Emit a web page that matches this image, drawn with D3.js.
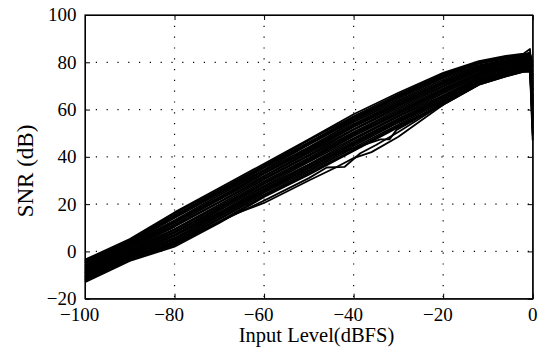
<!DOCTYPE html>
<html>
<head>
<meta charset="utf-8">
<script src="https://cdn.jsdelivr.net/npm/d3@7"></script>
<style>
  html, body { margin: 0; padding: 0; background: #fff; }
  svg { display: block; }
</style>
</head>
<body>
<svg id="chart-svg"></svg>
<script>
// input level sample points (dBFS), shared by the main bundle of runs
const levels = [-100, -90, -80, -70, -60, -50, -40, -30, -20, -12, -6, -2, -0.6, 0];

// SNR (dB) of each run at the levels above
const snrRuns = [
  [-3.5, 5.2, 16.5, 26.8, 37.1, 47.4, 58.0, 67.1, 75.5, 80.5, 82.7, 83.7, 85.6, 62],
  [-4.0, 4.5, 16.1, 26.2, 36.4, 47.0, 57.2, 66.5, 75.0, 80.2, 82.3, 83.2, 84.0, 78],
  [-4.5, 4.8, 15.4, 25.2, 36.0, 46.2, 56.0, 66.0, 74.5, 80.0, 82.0, 83.0, 84.2, 68],
  [-4.3, 4.2, 15.1, 25.8, 35.7, 46.0, 56.7, 65.6, 74.2, 79.8, 81.9, 82.8, 83.4, 55],
  [-4.8, 3.9, 14.7, 24.9, 35.3, 45.5, 55.8, 65.2, 73.8, 79.4, 81.6, 82.5, 83.0, 70],
  [-5.0, 3.4, 14.1, 24.5, 34.5, 45.1, 55.3, 64.6, 73.3, 78.8, 81.0, 82.1, 83.5, 80],
  [-5.7, 3.1, 13.2, 23.8, 34.0, 44.1, 54.7, 63.9, 72.6, 78.4, 80.7, 81.9, 83.1, 58],
  [-6.0, 2.6, 12.8, 23.0, 33.4, 43.6, 53.9, 63.3, 72.0, 77.9, 80.3, 81.6, 82.7, 74],
  [-6.5, 2.0, 12.5, 22.2, 33.0, 42.8, 53.0, 62.5, 71.2, 77.3, 80.2, 81.4, 82.0, 64],
  [-6.4, 2.4, 12.1, 22.6, 32.9, 43.0, 53.4, 62.6, 71.5, 77.5, 80.0, 81.2, 82.3, 66],
  [-6.8, 1.8, 11.5, 21.9, 32.0, 42.2, 52.6, 61.9, 70.8, 77.0, 79.6, 80.9, 81.8, 79],
  [-7.3, 1.6, 10.9, 21.0, 31.6, 41.7, 51.8, 61.4, 70.2, 76.6, 79.2, 80.6, 81.6, 52],
  [-7.6, 1.0, 10.4, 20.7, 30.9, 40.9, 51.4, 60.7, 69.7, 76.2, 78.9, 80.3, 81.1, 76],
  [-8.1, 0.8, 9.5, 19.8, 30.4, 40.4, 50.5, 60.0, 69.0, 75.7, 78.4, 80.0, 80.6, 63],
  [-8.4, 0.2, 9.1, 19.1, 29.7, 39.6, 50.1, 59.4, 68.6, 75.2, 78.2, 79.5, 80.4, 80],
  [-9.0, -0.2, 8.4, 18.2, 28.8, 38.8, 49.6, 58.5, 68.4, 75.0, 77.5, 79.0, 79.8, 73],
  [-8.9, 0.0, 8.1, 18.6, 29.0, 39.1, 49.2, 58.8, 67.9, 74.9, 77.7, 79.3, 79.9, 57],
  [-9.3, -0.6, 7.8, 17.8, 28.5, 38.3, 48.7, 58.2, 67.3, 74.4, 77.3, 78.9, 79.5, 72],
  [-9.7, -0.8, 7.0, 17.3, 27.8, 37.8, 47.8, 57.5, 66.8, 74.0, 77.0, 78.5, 79.1, 49],
  [-10.2, -1.4, 6.4, 16.5, 27.3, 36.9, 47.2, 57.0, 66.0, 73.5, 76.5, 78.3, 78.7, 68],
  [-10.5, -1.6, 5.7, 16.0, 26.6, 36.4, 46.5, 56.2, 65.5, 73.1, 76.2, 77.9, 78.3, 77],
  [-11.0, -1.8, 5.0, 15.4, 25.6, 35.5, 45.7, 55.2, 65.0, 72.5, 75.6, 77.4, 77.8, 62],
  [-10.9, -2.1, 5.3, 15.2, 26.1, 35.6, 45.9, 55.8, 64.9, 72.7, 75.8, 77.7, 77.9, 60],
  [-11.4, -2.4, 4.4, 14.6, 25.3, 35.1, 45.2, 55.0, 64.2, 72.2, 75.4, 77.2, 77.5, 75],
  [-11.8, -2.9, 4.0, 13.9, 24.8, 34.4, 44.6, 54.5, 63.8, 71.8, 75.1, 77.0, 77.2, 54],
  [-12.1, -3.1, 3.4, 13.5, 24.1, 33.8, 43.8, 53.7, 63.3, 71.3, 74.7, 76.6, 76.8, 71],
  [-12.6, -3.7, 2.6, 12.6, 23.5, 33.1, 43.0, 53.1, 62.4, 70.9, 74.4, 76.2, 76.3, 65],
  [-13.0, -4.0, 2.0, 12.0, 23.0, 32.5, 42.5, 52.5, 62.0, 70.5, 74.0, 76.0, 76.0, 47]
];

// a few runs that sag below the bundle between -70 and -30 dBFS
const kinkLevels = [-100, -90, -80, -70, -60, -50, -46, -42, -38.5, -35, -30, -20, -12, -6, -2, -0.6, 0];
const kinkSnr    = [-11.5, -2.5, 3.5, 12.5, 21.5, 31, 35.5, 35.8, 41.5, 45, 50.5, 62.5, 71, 74.5, 76.5, 77, 50];
const sagLevels  = [-100, -90, -80, -70, -67, -60, -50, -44, -40, -36, -30, -20, -12, -6, -2, -0.6, 0];
const sagSnr     = [-12, -3, 3, 12.5, 15.5, 20.5, 30, 35.5, 39.5, 42, 48.5, 62, 70.5, 74, 76, 76.5, 56];
const dipLevels  = [-100, -80, -60, -45, -34, -32, -30.4, -27, -20, -12, -2, -0.6, 0];
const dipSnr     = [-9, 7, 26, 40.5, 47.4, 47.4, 51.4, 55, 63, 71.5, 77, 77.5, 61];

const xTicks = [-100, -80, -60, -40, -20, 0];
const yTicks = [-20, 0, 20, 40, 60, 80, 100];

const serif = "'Liberation Serif', 'Times New Roman', Times, serif";

const margin = {top: 15, right: 11.3, bottom: 54.3, left: 85},
  width = 544 - margin.left - margin.right,
  height = 353 - margin.top - margin.bottom;

const x = d3.scaleLinear().domain([-100, 0]).range([0, width]);
const y = d3.scaleLinear().domain([-20, 100]).range([height, 0]);

const svg = d3.select('#chart-svg')
  .attr('width', width + margin.left + margin.right)
  .attr('height', height + margin.top + margin.bottom)
  .attr('font-family', serif)
  .append('g')
  .attr('transform', 'translate(' + margin.left + ',' + margin.top + ')');

// dotted grid (inner ticks only)
const grid = svg.append('g').attr('class', 'grid')
  .attr('stroke', '#000').attr('stroke-width', 1.2).attr('stroke-dasharray', '1.2 9.6');
grid.selectAll('line.v').data(xTicks.slice(1, -1)).enter().append('line')
  .attr('x1', d => x(d)).attr('x2', d => x(d)).attr('y1', 0).attr('y2', height);
grid.selectAll('line.h').data(yTicks.slice(1, -1)).enter().append('line')
  .attr('x1', 0).attr('x2', width).attr('y1', d => y(d)).attr('y2', d => y(d));

// runs
const line = d3.line().x(d => x(d[0])).y(d => y(d[1]));
const runs = snrRuns.map(r => levels.map((l, i) => [l, r[i]]));
runs.push(kinkLevels.map((l, i) => [l, kinkSnr[i]]));
runs.push(sagLevels.map((l, i) => [l, sagSnr[i]]));
runs.push(dipLevels.map((l, i) => [l, dipSnr[i]]));

svg.append('g').attr('class', 'runs')
  .selectAll('path').data(runs).enter().append('path')
  .attr('d', line)
  .attr('fill', 'none')
  .attr('stroke', '#000')
  .attr('stroke-width', 1.8)
  .attr('stroke-linejoin', 'round');

// box axes, ticks pointing in on all four sides
const tick = 5;
svg.append('g').attr('transform', 'translate(0,' + height + ')')
  .call(d3.axisBottom(x).tickValues(xTicks).tickSizeInner(-tick).tickSizeOuter(0).tickFormat(''));
svg.append('g')
  .call(d3.axisTop(x).tickValues(xTicks).tickSizeInner(-tick).tickSizeOuter(0).tickFormat(''));
svg.append('g')
  .call(d3.axisLeft(y).tickValues(yTicks).tickSizeInner(-tick).tickSizeOuter(0).tickFormat(''));
svg.append('g').attr('transform', 'translate(' + width + ',0)')
  .call(d3.axisRight(y).tickValues(yTicks).tickSizeInner(-tick).tickSizeOuter(0).tickFormat(''));
svg.selectAll('.domain, .tick line').attr('stroke', '#000').attr('stroke-width', 1);

svg.append('rect')
  .attr('width', width).attr('height', height)
  .attr('fill', 'none').attr('stroke', '#000').attr('stroke-width', 1.2);

// tick labels, digits centred under the tick, minus hanging left
const fmt = d3.format('d');
svg.append('g').selectAll('text').data(xTicks).enter().append('text')
  .attr('x', d => x(d))
  .attr('y', height + 22.5)
  .attr('dx', d => d < 0 ? '-0.282em' : 0)
  .attr('text-anchor', 'middle')
  .attr('font-family', serif)
  .style('font-size', '19px')
  .text(fmt);

svg.append('g').selectAll('text').data(yTicks).enter().append('text')
  .attr('x', -8.5)
  .attr('y', d => y(d))
  .attr('dy', '0.34em')
  .attr('text-anchor', 'end')
  .attr('font-family', serif)
  .style('font-size', '19px')
  .text(fmt);

svg.append('text')
  .attr('x', 316.5 - margin.left)
  .attr('y', 341.5 - margin.top)
  .attr('text-anchor', 'middle')
  .attr('font-family', serif)
  .style('font-size', '20.5px')
  .text('Input Level(dBFS)');

svg.append('text')
  .attr('transform', 'translate(' + (33 - margin.left) + ',' + (171 - margin.top) + ') rotate(-90)')
  .attr('text-anchor', 'middle')
  .attr('font-family', serif)
  .style('font-size', '23px')
  .text('SNR (dB)');
</script>
</body>
</html>
